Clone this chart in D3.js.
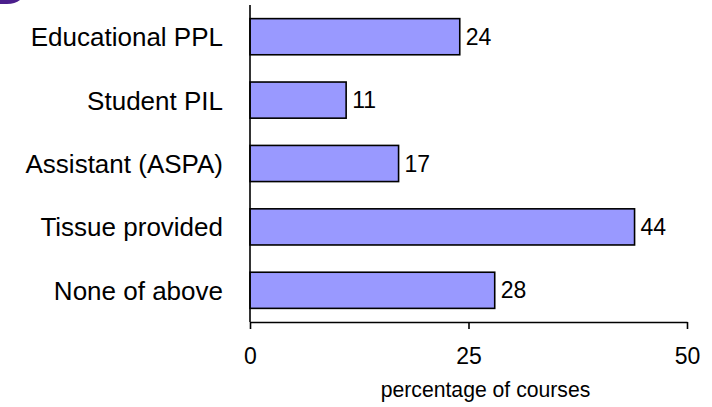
<!DOCTYPE html>
<html>
<head>
<meta charset="utf-8">
<script src="https://cdn.jsdelivr.net/npm/d3@7"></script>
<style>
  body { margin: 0; background: #fff; }
  svg { display: block; font-family: Arial, "Liberation Sans", sans-serif; }
</style>
</head>
<body>
<svg></svg>
<script>
var width = 712;
var height = 407;

var categories = ["Educational PPL", "Student PIL", "Assistant (ASPA)", "Tissue provided", "None of above"];
var values = [24, 11, 17, 44, 28];
var xTicks = [0, 25, 50];
var xTitle = "percentage of courses";

var svg = d3.select("svg")
            .attr("width", width)
            .attr("height", height);

// little purple corner left over from the slide
svg.append("path")
   .attr("d", "M0,0 H20 Q15,4 7,4 H0 Z")
   .attr("fill", "#4b1e8c");

var x = d3.scaleLinear().domain([0, 50]).range([250, 687]);
var y = d3.scaleBand().domain(categories).range([5, 322])
          .paddingInner(0.43).paddingOuter(0.215);

var data = categories.map((c, i) => ({cat: c, val: values[i]}));

svg.selectAll("rect.bar")
   .data(data)
   .enter()
   .append("rect")
   .attr("class", "bar")
   .attr("x", x(0))
   .attr("y", d => y(d.cat))
   .attr("width", d => x(d.val) - x(0))
   .attr("height", y.bandwidth())
   .attr("fill", "#9999ff")
   .attr("stroke", "#000")
   .attr("stroke-width", 1.6);

svg.selectAll("text.val")
   .data(data)
   .enter()
   .append("text")
   .attr("class", "val")
   .attr("x", d => x(d.val) + 6)
   .attr("y", d => y(d.cat) + y.bandwidth() / 2 + 8)
   .attr("font-size", 23)
   .text(d => d.val);

// category labels
svg.selectAll("text.cat")
   .data(categories)
   .enter()
   .append("text")
   .attr("class", "cat")
   .attr("x", 223)
   .attr("y", d => y(d) + y.bandwidth() / 2 + 9.5)
   .attr("text-anchor", "end")
   .attr("font-size", 26)
   .text(d => d);

// y axis line
svg.append("line")
   .attr("x1", x(0)).attr("x2", x(0))
   .attr("y1", 5).attr("y2", 322)
   .attr("stroke", "#000").attr("stroke-width", 1.6);

// x axis
var xAxis = svg.append("g")
   .attr("transform", "translate(0,322)")
   .call(d3.axisBottom(x).tickValues(xTicks).tickSize(7).tickSizeOuter(0).tickPadding(19));

xAxis.select(".domain").attr("stroke", "#000").attr("stroke-width", 1.6);
xAxis.selectAll(".tick line").attr("stroke", "#000").attr("stroke-width", 1.6);
xAxis.selectAll(".tick text")
     .attr("font-family", "Arial, 'Liberation Sans', sans-serif")
     .attr("font-size", 23)
     .attr("fill", "#000");

svg.append("text")
   .attr("x", 485.5)
   .attr("y", 397)
   .attr("text-anchor", "middle")
   .attr("font-size", 21.2)
   .text(xTitle);
</script>
</body>
</html>
